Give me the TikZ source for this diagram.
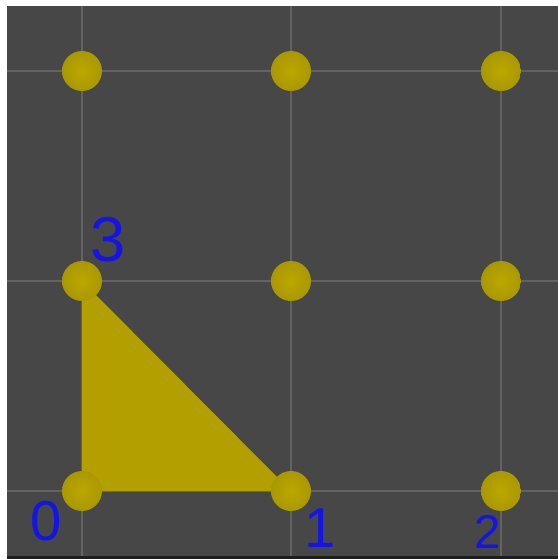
\documentclass[tikz,border=0pt]{standalone}
\usepackage{fontspec}
\setmainfont{Liberation Sans}
\usepackage{tikz}
\usetikzlibrary{positioning,backgrounds}
\definecolor{ViewGray}{HTML}{474747}
\definecolor{EdgeDark}{HTML}{1E1E1E}
\definecolor{GridGray}{HTML}{636363}
\definecolor{FaceGold}{HTML}{B3A000}
\definecolor{BallLight}{HTML}{BBA800}
\definecolor{BallMid}{HTML}{A99700}
\definecolor{BallDark}{HTML}{736500}
\definecolor{InkBlue}{HTML}{1414E6}
\pgfdeclareradialshading{orb}{\pgfpoint{0bp}{0bp}}{%
  color(0bp)=(BallLight); color(26bp)=(BallMid); color(44bp)=(BallDark); color(50bp)=(BallDark)}
\tikzset{
  % grid line
  gl/.style={draw=GridGray,line width=0.6pt},
  % vertex ball
  vb/.style={circle,inner sep=0pt,minimum size=0.8cm,shading=orb},
  % hand label
  hl/.style={text=InkBlue,inner sep=0pt,font=\fontsize{32}{32}\selectfont}
}

\begin{document}
\begin{tikzpicture}[x=0.02cm,y=-0.02cm]
  \useasboundingbox (0,0) rectangle (558,559);

  % balls
  \node[vb] (p02) at (82,71) {};
  \node[vb] (p12) at (291,71) {};
  \node[vb] (p22) at (501,71) {};
  \node[vb] (p01) at (82,281) {};
  \node[vb] (p11) at (291,281) {};
  \node[vb] (p21) at (501,281) {};
  \node[vb] (p00) at (82,491) {};
  \node[vb] (p10) at (291,491) {};
  \node[vb] (p20) at (501,491) {};

  % viewport, grid and triangle face, under the balls
  \begin{pgfonlayer}{background}
    \fill[white] (0,0) rectangle (558,559);
    \fill[ViewGray] (7,6) rectangle (558,556);
    \fill[EdgeDark] (7,556) rectangle (558,559);
    \foreach \gx in {82,291,501}
      \draw[gl] (\gx,6) -- (\gx,556);
    \foreach \gy in {71,281,491}
      \draw[gl] (7,\gy) -- (558,\gy);
    \fill[FaceGold] (p01.center) -- (p00.center) -- (p10.center) -- cycle;
  \end{pgfonlayer}

  % labels
  \node[hl,font=\fontsize{36}{36}\selectfont] (l3) at (108,240) {3};
  \node[hl] (l0) at (46,521) {0};
  \node[hl] (l1) at (320,528) {1};
  \node[hl,font=\fontsize{27}{27}\selectfont] (l2) at (488,532) {2};
\end{tikzpicture}
\end{document}
